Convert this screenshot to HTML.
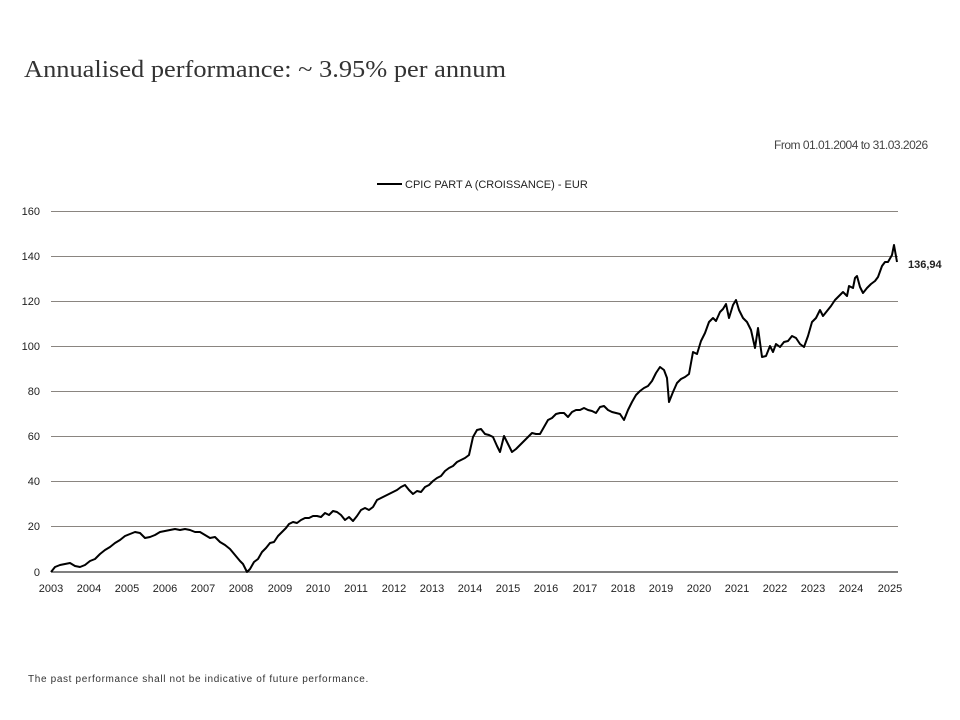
<!DOCTYPE html>
<html><head><style>
body{margin:0;width:960px;height:720px;background:#fff;position:relative;overflow:hidden;font-family:"Liberation Sans",sans-serif}
.t{position:absolute;white-space:nowrap}
</style></head><body>
<div class="t" style="left:24px;top:57px;font-family:'Liberation Serif',serif;font-size:24px;color:#333;transform:scaleX(1.1);transform-origin:0 0">Annualised performance: ~ 3.95% per annum</div>
<div class="t" style="left:774px;top:138px;font-size:12px;color:#444;letter-spacing:-0.5px">From 01.01.2004 to 31.03.2026</div>
<div class="t" style="left:28px;top:674px;font-size:10px;color:#333;letter-spacing:0.65px">The past performance shall not be indicative of future performance.</div>
<svg width="960" height="720" style="position:absolute;left:0;top:0" font-family="Liberation Sans, sans-serif">
<line x1="377" y1="184" x2="402" y2="184" stroke="#000" stroke-width="2"/>
<text x="405" y="188" font-size="11" fill="#222">CPIC PART A (CROISSANCE) - EUR</text>
<g stroke="#8a8580" stroke-width="1">
<line x1="51" y1="211.5" x2="898" y2="211.5"/><line x1="51" y1="256.5" x2="898" y2="256.5"/>
<line x1="51" y1="301.5" x2="898" y2="301.5"/><line x1="51" y1="346.5" x2="898" y2="346.5"/>
<line x1="51" y1="391.5" x2="898" y2="391.5"/><line x1="51" y1="436.5" x2="898" y2="436.5"/>
<line x1="51" y1="481.5" x2="898" y2="481.5"/><line x1="51" y1="526.5" x2="898" y2="526.5"/>
</g>
<line x1="51" y1="572" x2="898" y2="572" stroke="#000" stroke-width="1"/>
<g font-size="11" fill="#222" text-anchor="end">
<text x="40" y="215">160</text><text x="40" y="260">140</text><text x="40" y="305">120</text><text x="40" y="350">100</text>
<text x="40" y="395">80</text><text x="40" y="440">60</text><text x="40" y="485">40</text><text x="40" y="530">20</text><text x="40" y="576">0</text>
</g>
<g font-size="11" fill="#222" text-anchor="middle">
<text x="51" y="592">2003</text><text x="89" y="592">2004</text><text x="127" y="592">2005</text><text x="165" y="592">2006</text>
<text x="203" y="592">2007</text><text x="241" y="592">2008</text><text x="280" y="592">2009</text><text x="318" y="592">2010</text>
<text x="356" y="592">2011</text><text x="394" y="592">2012</text><text x="432" y="592">2013</text><text x="470" y="592">2014</text>
<text x="508" y="592">2015</text><text x="546" y="592">2016</text><text x="585" y="592">2017</text><text x="623" y="592">2018</text>
<text x="661" y="592">2019</text><text x="699" y="592">2020</text><text x="737" y="592">2021</text><text x="775" y="592">2022</text>
<text x="813" y="592">2023</text><text x="851" y="592">2024</text><text x="890" y="592">2025</text>
</g>
<text x="908" y="268" font-size="11" font-weight="bold" fill="#222">136,94</text>
<polyline fill="none" stroke="#000" stroke-width="2" stroke-linejoin="round" points="51,572 55,567 60,565 65,564 70,563 75,566 80,567 85,565 90,561 95,559 100,554 105,550 110,547 115,543 120,540 125,536 130,534 135,532 140,533 145,538 150,537 155,535 160,532 165,531 170,530 175,529 180,530 185,529 190,530 195,532 200,532 205,535 210,538 215,537 220,542 225,545 230,549 235,555 240,561 243,564 247,572 250,569 254,562 258,559 262,552 266,548 270,543 274,542 278,536 282,532 286,528 289,524 293,522 297,523 301,520 305,518 309,518 313,516 317,516 321,517 325,513 329,515 333,511 337,512 341,515 345,520 349,517 353,521 357,516 361,510 365,508 369,510 373,507 377,500 381,498 385,496 389,494 393,492 397,490 401,487 405,485 409,490 413,494 417,491 421,492 425,487 429,485 433,481 437,478 441,476 445,471 449,468 453,466 457,462 461,460 465,458 469,455 473,437 477,430 481,429 485,434 489,435 493,437 497,446 500,452 504,436 508,444 512,452 516,449 520,445 524,441 528,437 532,433 536,434 540,434 544,427 548,420 552,418 556,414 560,413 564,413 568,417 572,412 576,410 580,410 584,408 588,410 592,411 596,413 600,407 604,406 608,410 612,412 616,413 620,414 624,420 628,410 632,402 636,395 640,391 644,388 648,386 652,381 656,373 660,367 664,370 667,378 669,402 673,392 677,383 681,379 685,377 689,374 693,352 697,354 701,341 705,333 709,322 713,318 716,321 720,312 723,309 726,304 729,318 733,305 736,300 739,310 743,318 747,322 751,330 755,348 758,328 762,357 766,356 770,346 773,352 776,344 780,347 784,342 788,341 792,336 796,338 800,344 804,347 808,336 812,322 816,318 820,310 823,316 827,311 831,306 835,300 839,296 843,292 847,296 849,286 853,288 855,278 857,276 860,287 863,293 867,288 871,284 875,281 878,277 882,266 885,262 888,262 892,255 894,245 897,262"/>
</svg>
</body></html>
